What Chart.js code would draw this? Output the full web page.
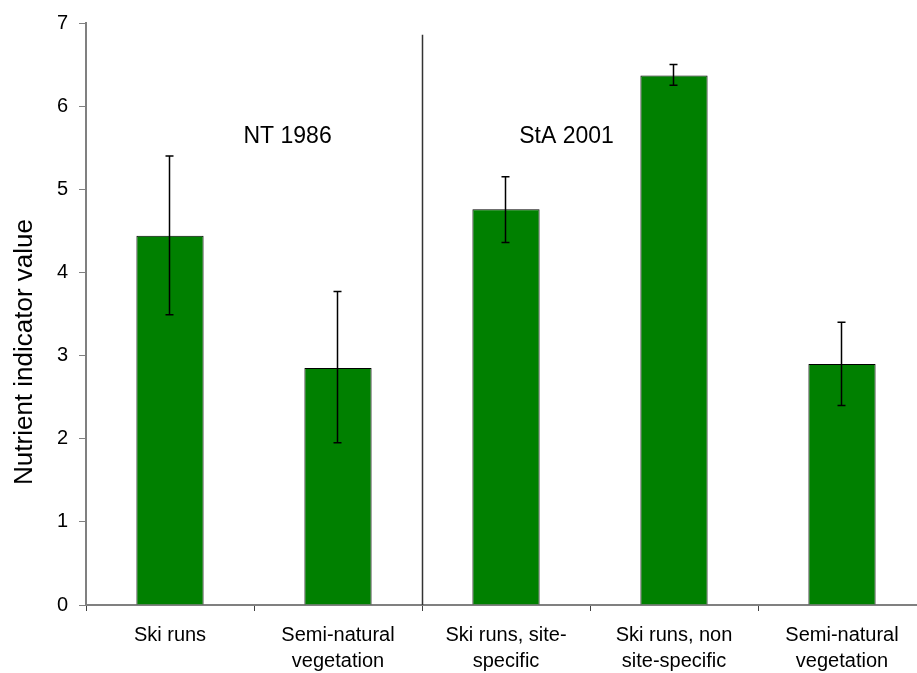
<!DOCTYPE html>
<html>
<head>
<meta charset="utf-8">
<title>Nutrient indicator value</title>
<script src="https://cdn.jsdelivr.net/npm/chart.js@4.4.0/dist/chart.umd.min.js"></script>
<style>
  html, body { margin: 0; padding: 0; background: #fff; overflow: hidden; }
  #wrap { position: relative; width: 940px; height: 673px; }
</style>
</head>
<body>
<div id="wrap"><canvas id="myChart"></canvas></div>
<script>
  // data
  const categories = [
    ['Ski runs'],
    ['Semi-natural', 'vegetation'],
    ['Ski runs, site-', 'specific'],
    ['Ski runs, non', 'site-specific'],
    ['Semi-natural', 'vegetation']
  ];
  const meanValues = [4.44, 2.85, 4.76, 6.37, 2.90];
  const errLow = [3.49, 1.95, 4.36, 6.25, 2.40];
  const errHigh = [5.40, 3.77, 5.15, 6.50, 3.40];
  const yTicks = [0, 1, 2, 3, 4, 5, 6, 7];
  const yTitle = 'Nutrient indicator value';
  const groupLabels = ['NT 1986', 'StA 2001'];
  const groupLabelAt = [0.7, 2.36]; // in category units
  const groupLabelValue = 5.63;
  const dividerAt = 1.5;
  const dividerTop = 6.86;

  const FONT = "'Liberation Sans', Arial, sans-serif";

  // error bars drawn on top of the bars
  const errorBars = {
    id: 'errorBars',
    afterDatasetsDraw(chart) {
      const { ctx, scales: { x, y } } = chart;
      ctx.save();
      ctx.strokeStyle = '#000';
      ctx.lineWidth = 1.5;
      meanValues.forEach((v, i) => {
        const px = Math.round(x.getPixelForValue(i)) - 0.5;
        const top = y.getPixelForValue(errHigh[i]);
        const bot = y.getPixelForValue(errLow[i]);
        ctx.beginPath();
        ctx.moveTo(px, top); ctx.lineTo(px, bot);
        ctx.moveTo(px - 4, top); ctx.lineTo(px + 4, top);
        ctx.moveTo(px - 4, bot); ctx.lineTo(px + 4, bot);
        ctx.stroke();
      });
      ctx.restore();
    }
  };

  // divider line, group labels and the y title
  const extras = {
    id: 'extras',
    afterDraw(chart) {
      const { ctx, chartArea, scales: { x, y } } = chart;
      ctx.save();
      const dx = Math.round(x.getPixelForValue(dividerAt)) + 0.5;
      ctx.strokeStyle = '#333';
      ctx.lineWidth = 1.5;
      ctx.beginPath();
      ctx.moveTo(dx, y.getPixelForValue(dividerTop));
      ctx.lineTo(dx, y.getPixelForValue(0));
      ctx.stroke();

      ctx.fillStyle = '#000';
      ctx.font = '23px ' + FONT;
      ctx.textAlign = 'center';
      ctx.textBaseline = 'middle';
      groupLabels.forEach((t, i) => {
        ctx.fillText(t, x.getPixelForValue(groupLabelAt[i]), y.getPixelForValue(groupLabelValue));
      });

      ctx.font = '26px ' + FONT;
      ctx.translate(25, (chartArea.top + chartArea.bottom) / 2 + 38);
      ctx.rotate(-Math.PI / 2);
      ctx.fillText(yTitle, 0, 0);
      ctx.restore();
    }
  };

  const ctx = document.getElementById('myChart');
  // eslint-disable-next-line no-unused-vars
  const myChart = new Chart(ctx, {
    type: 'bar',
    data: {
      labels: categories,
      datasets: [{
        data: meanValues,
        backgroundColor: '#008000',
        borderColor: '#000',
        borderWidth: 1,
        barPercentage: 0.4,
        categoryPercentage: 1
      }]
    },
    options: {
      responsive: true,
      maintainAspectRatio: false,
      animation: false,
      layout: { padding: { top: 20, right: 14, left: 0, bottom: 0 } },
      plugins: {
        legend: { display: false },
        tooltip: { enabled: false }
      },
      scales: {
        x: {
          offset: true,
          grid: { offset: true, drawOnChartArea: false, drawTicks: true, tickLength: 6, color: '#404040', lineWidth: 1 },
          border: { color: '#808080', width: 2 },
          ticks: {
            color: '#000',
            font: { family: FONT, size: 20, lineHeight: 1.3 },
            padding: 11,
            maxRotation: 0,
            autoSkip: false
          },
          afterFit: (scale) => { scale.height = 68; }
        },
        y: {
          min: 0,
          max: 7,
          afterBuildTicks: (scale) => { scale.ticks = yTicks.map(v => ({ value: v })); },
          grid: { drawOnChartArea: false, drawTicks: true, tickLength: 7, color: '#808080', lineWidth: 1 },
          border: { color: '#808080', width: 2 },
          ticks: {
            color: '#000',
            font: { family: FONT, size: 20 },
            padding: 11
          },
          afterFit: (scale) => { scale.width = 86; }
        }
      }
    },
    plugins: [errorBars, extras]
  });
</script>
</body>
</html>
